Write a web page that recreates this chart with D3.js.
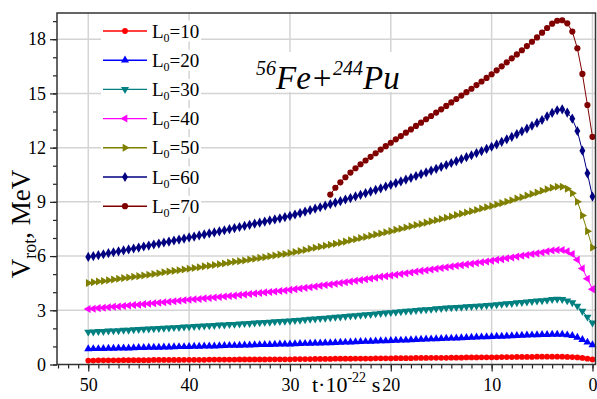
<!DOCTYPE html>
<html>
<head>
<meta charset="utf-8">
<title>Vrot vs t</title>
<style>
  body { margin: 0; background: #fff; }
  svg text { font-family: "Liberation Serif", "Times New Roman", serif; fill: #000; }
</style>
<script src="https://cdn.jsdelivr.net/npm/d3@7"></script>
</head>
<body>
<div id="chart"></div>
<script>
// time runs from 50 down to 0 (units of 10^-22 s), one point every 0.5
const tStart = 50, tStep = 0.5;

const L10 = [0.22, 0.22, 0.23, 0.23, 0.23, 0.23, 0.23, 0.24, 0.24, 0.24, 0.24,
  0.24, 0.24, 0.25, 0.25, 0.25, 0.25, 0.25, 0.25, 0.26, 0.26,
  0.26, 0.26, 0.26, 0.27, 0.27, 0.27, 0.27, 0.27, 0.27, 0.28,
  0.28, 0.28, 0.28, 0.28, 0.28, 0.29, 0.29, 0.29, 0.29, 0.29,
  0.30, 0.30, 0.30, 0.30, 0.31, 0.31, 0.31, 0.31, 0.32, 0.32,
  0.32, 0.32, 0.33, 0.33, 0.33, 0.33, 0.34, 0.34, 0.34, 0.34,
  0.35, 0.35, 0.35, 0.35, 0.36, 0.36, 0.36, 0.37, 0.37, 0.37,
  0.37, 0.38, 0.38, 0.38, 0.39, 0.39, 0.39, 0.40, 0.40, 0.40,
  0.40, 0.41, 0.41, 0.41, 0.42, 0.42, 0.42, 0.42, 0.43, 0.43,
  0.43, 0.43, 0.43, 0.43, 0.42, 0.41, 0.39, 0.36, 0.32, 0.28];

const L20 = [0.86, 0.87, 0.87, 0.88, 0.89, 0.89, 0.90, 0.91, 0.91, 0.92, 0.93,
  0.93, 0.94, 0.95, 0.95, 0.96, 0.96, 0.97, 0.98, 0.98, 0.99,
  1.00, 1.00, 1.01, 1.02, 1.02, 1.03, 1.04, 1.05, 1.05, 1.06,
  1.07, 1.07, 1.08, 1.09, 1.10, 1.10, 1.11, 1.12, 1.12, 1.13,
  1.14, 1.15, 1.16, 1.17, 1.18, 1.18, 1.19, 1.20, 1.21, 1.22,
  1.23, 1.24, 1.25, 1.26, 1.27, 1.28, 1.29, 1.30, 1.31, 1.32,
  1.33, 1.34, 1.35, 1.36, 1.38, 1.39, 1.40, 1.41, 1.42, 1.43,
  1.44, 1.45, 1.46, 1.47, 1.49, 1.50, 1.51, 1.52, 1.53, 1.54,
  1.55, 1.56, 1.57, 1.58, 1.60, 1.61, 1.62, 1.63, 1.64, 1.65,
  1.65, 1.66, 1.66, 1.66, 1.63, 1.59, 1.50, 1.37, 1.23, 1.08];

const L30 = [1.80, 1.81, 1.83, 1.84, 1.86, 1.87, 1.88, 1.90, 1.91, 1.93, 1.94,
  1.96, 1.97, 1.99, 2.00, 2.02, 2.03, 2.05, 2.06, 2.08, 2.09,
  2.11, 2.12, 2.14, 2.15, 2.17, 2.19, 2.20, 2.22, 2.23, 2.25,
  2.27, 2.28, 2.30, 2.32, 2.34, 2.35, 2.37, 2.39, 2.40, 2.42,
  2.44, 2.46, 2.49, 2.51, 2.53, 2.55, 2.57, 2.60, 2.62, 2.64,
  2.66, 2.69, 2.71, 2.74, 2.76, 2.78, 2.81, 2.83, 2.86, 2.88,
  2.90, 2.93, 2.95, 2.97, 3.00, 3.02, 3.04, 3.06, 3.09, 3.11,
  3.13, 3.15, 3.16, 3.18, 3.20, 3.22, 3.24, 3.25, 3.27, 3.29,
  3.32, 3.34, 3.37, 3.39, 3.42, 3.44, 3.47, 3.49, 3.52, 3.54,
  3.57, 3.60, 3.62, 3.61, 3.53, 3.43, 3.24, 2.96, 2.63, 2.31];

const L40 = [3.07, 3.09, 3.12, 3.14, 3.17, 3.19, 3.21, 3.24, 3.26, 3.29, 3.31,
  3.34, 3.36, 3.39, 3.42, 3.45, 3.47, 3.50, 3.53, 3.55, 3.58,
  3.61, 3.63, 3.66, 3.68, 3.71, 3.74, 3.76, 3.79, 3.81, 3.84,
  3.87, 3.90, 3.93, 3.96, 3.99, 4.01, 4.04, 4.07, 4.10, 4.13,
  4.17, 4.21, 4.24, 4.28, 4.32, 4.36, 4.40, 4.43, 4.47, 4.51,
  4.55, 4.59, 4.64, 4.68, 4.72, 4.76, 4.80, 4.85, 4.89, 4.93,
  4.97, 5.01, 5.05, 5.09, 5.14, 5.18, 5.22, 5.26, 5.30, 5.34,
  5.38, 5.42, 5.46, 5.50, 5.54, 5.58, 5.62, 5.66, 5.70, 5.74,
  5.79, 5.83, 5.88, 5.92, 5.97, 6.02, 6.06, 6.11, 6.15, 6.20,
  6.26, 6.31, 6.34, 6.34, 6.26, 6.11, 5.80, 5.31, 4.75, 4.17];

const L50 = [4.51, 4.55, 4.59, 4.62, 4.66, 4.70, 4.74, 4.78, 4.81, 4.85, 4.89,
  4.93, 4.97, 5.01, 5.05, 5.10, 5.14, 5.18, 5.22, 5.26, 5.30,
  5.34, 5.38, 5.43, 5.47, 5.51, 5.55, 5.59, 5.64, 5.68, 5.72,
  5.76, 5.81, 5.85, 5.90, 5.94, 5.99, 6.03, 6.08, 6.12, 6.17,
  6.23, 6.28, 6.34, 6.40, 6.46, 6.51, 6.57, 6.63, 6.68, 6.74,
  6.80, 6.87, 6.93, 7.00, 7.06, 7.12, 7.19, 7.25, 7.32, 7.38,
  7.45, 7.51, 7.58, 7.65, 7.72, 7.78, 7.85, 7.92, 7.98, 8.05,
  8.12, 8.19, 8.27, 8.34, 8.41, 8.48, 8.55, 8.63, 8.70, 8.77,
  8.85, 8.93, 9.01, 9.09, 9.18, 9.26, 9.35, 9.43, 9.52, 9.61,
  9.70, 9.78, 9.83, 9.84, 9.72, 9.48, 9.01, 8.25, 7.37, 6.47];

const L60 = [5.95, 6.00, 6.05, 6.10, 6.16, 6.21, 6.26, 6.31, 6.37, 6.42, 6.47,
  6.53, 6.58, 6.64, 6.69, 6.75, 6.80, 6.86, 6.91, 6.97, 7.03,
  7.08, 7.14, 7.20, 7.26, 7.31, 7.37, 7.43, 7.49, 7.55, 7.61,
  7.67, 7.73, 7.79, 7.85, 7.91, 7.97, 8.03, 8.09, 8.16, 8.22,
  8.30, 8.38, 8.46, 8.54, 8.62, 8.70, 8.79, 8.87, 8.96, 9.04,
  9.13, 9.21, 9.30, 9.39, 9.48, 9.57, 9.66, 9.75, 9.85, 9.94,
  10.04, 10.13, 10.23, 10.33, 10.43, 10.53, 10.63, 10.73, 10.83, 10.94,
  11.04, 11.15, 11.25, 11.36, 11.47, 11.58, 11.70, 11.81, 11.93, 12.05,
  12.18, 12.32, 12.46, 12.60, 12.75, 12.90, 13.05, 13.21, 13.37, 13.53,
  13.73, 13.92, 14.07, 14.12, 13.94, 13.60, 12.92, 11.83, 10.58, 9.29];

// L0=70 only starts at t = 26
const L70start = 26;
const L70 = [9.40, 9.78, 10.08, 10.36, 10.62, 10.86, 11.08, 11.29, 11.49, 11.69,
  11.89, 12.08, 12.27, 12.46, 12.64, 12.83, 13.01, 13.20, 13.38, 13.57,
  13.75, 13.94, 14.12, 14.31, 14.50, 14.69, 14.88, 15.07, 15.26, 15.46,
  15.66, 15.86, 16.06, 16.28, 16.50, 16.72, 16.94, 17.16, 17.39, 17.62,
  17.86, 18.10, 18.36, 18.62, 18.86, 19.02, 19.05, 18.88, 18.42, 17.50,
  16.08, 14.36, 12.60];

const legendLabels = ['10', '20', '30', '40', '50', '60', '70'];
const xTicks = [50, 40, 30, 20, 10, 0];
const yTicks = [0, 3, 6, 9, 12, 15, 18];

const W = 597, H = 399;
const mLeft = 57, mRight = 595.5, mTop = 13, mBottom = 364.5;

let svg = d3.select('#chart').append('svg').attr('width', W).attr('height', H);

let x = d3.scaleLinear().domain([53.1, -0.3]).range([mLeft, mRight]);
let y = d3.scaleLinear().domain([0, 19.45]).range([mBottom, mTop]);

function sym(type, rot) {
  return { type: type, rot: rot };
}
let series = [
  { name: legendLabels[0], values: L10, start: tStart, color: '#ff0000', s: sym(d3.symbolCircle, 0), size: 26 },
  { name: legendLabels[1], values: L20, start: tStart, color: '#0000ff', s: sym(d3.symbolTriangle, 0), size: 28 },
  { name: legendLabels[2], values: L30, start: tStart, color: '#008080', s: sym(d3.symbolTriangle, 180), size: 28 },
  { name: legendLabels[3], values: L40, start: tStart, color: '#ff00ff', s: sym(d3.symbolTriangle, -90), size: 28 },
  { name: legendLabels[4], values: L50, start: tStart, color: '#808000', s: sym(d3.symbolTriangle, 90), size: 28 },
  { name: legendLabels[5], values: L60, start: tStart, color: '#000080', s: sym(d3.symbolDiamond, 0), size: 30 },
  { name: legendLabels[6], values: L70, start: L70start, color: '#800000', s: sym(d3.symbolCircle, 0), size: 30 }
];

// grid
let grid = svg.append('g');
grid.selectAll('.gx').data(xTicks).enter().append('line')
  .attr('x1', d => x(d)).attr('x2', d => x(d))
  .attr('y1', mTop).attr('y2', mBottom)
  .style('stroke', '#d4d4d4').style('stroke-width', 1.5);
grid.selectAll('.gy').data(yTicks.slice(1)).enter().append('line')
  .attr('x1', mLeft).attr('x2', mRight)
  .attr('y1', d => y(d)).attr('y2', d => y(d))
  .style('stroke', '#d4d4d4').style('stroke-width', 1.5);

// axes
let minorX = d3.range(0, 54, 1), minorY = d3.range(0, 20, 1);
let xMinor = svg.append('g').attr('transform', 'translate(0,' + mBottom + ')')
  .call(d3.axisBottom(x).tickValues(minorX).tickSize(4).tickFormat(''));
let xMajor = svg.append('g').attr('transform', 'translate(0,' + mBottom + ')')
  .call(d3.axisBottom(x).tickValues(xTicks).tickSize(7).tickPadding(4));
let yMinor = svg.append('g').attr('transform', 'translate(' + mLeft + ',0)')
  .call(d3.axisLeft(y).tickValues(minorY).tickSize(4).tickFormat(''));
let yMajor = svg.append('g').attr('transform', 'translate(' + mLeft + ',0)')
  .call(d3.axisLeft(y).tickValues(yTicks).tickSize(7).tickPadding(4));
[xMinor, xMajor, yMinor, yMajor].forEach(a => {
  a.select('.domain').remove();
  a.selectAll('line').style('stroke', '#222').style('stroke-width', 1.2);
});
xMajor.selectAll('text').attr('y', 26).attr('dy', 0).style('font-size', '18px');
yMajor.selectAll('text').style('font-size', '18px');

// curves
let line = d3.line().x(d => x(d[0])).y(d => y(d[1]));
let plot = svg.append('g');
series.forEach(s => {
  let pts = s.values.map((v, i) => [s.start - i * tStep, v]);
  plot.append('path').datum(pts).attr('d', line)
    .style('fill', 'none').style('stroke', s.color).style('stroke-width', 1);
  let shape = d3.symbol().type(s.s.type).size(s.size)();
  plot.selectAll(null).data(pts).enter().append('path')
    .attr('d', shape)
    .attr('transform', d => 'translate(' + x(d[0]) + ',' + y(d[1]) + ') rotate(' + s.s.rot + ')')
    .style('fill', s.color);
});

// frame
svg.append('rect').attr('x', mLeft).attr('y', mTop)
  .attr('width', mRight - mLeft).attr('height', mBottom - mTop)
  .style('fill', 'none').style('stroke', '#333').style('stroke-width', 1.5);

// legend
let legend = svg.append('g');
series.forEach((s, i) => {
  let ry = 31 + i * 29.2;
  let g = legend.append('g');
  g.append('rect').attr('x', 101).attr('y', ry - 10.5).attr('width', 100).attr('height', 21).style('fill', '#fff');
  g.append('line').attr('x1', 103).attr('x2', 147).attr('y1', ry).attr('y2', ry)
    .style('stroke', s.color).style('stroke-width', 1.4);
  g.append('path').attr('d', d3.symbol().type(s.s.type).size(s.size)())
    .attr('transform', 'translate(125,' + ry + ') rotate(' + s.s.rot + ')')
    .style('fill', s.color);
  let t = g.append('text').attr('x', 152).attr('y', ry + 6.5).style('font-size', '19px');
  t.append('tspan').text('L');
  t.append('tspan').attr('dy', 4).style('font-size', '12px').text('0');
  t.append('tspan').attr('dy', -4).text('=' + s.name);
});

// title
svg.append('rect').attr('x', 252).attr('y', 52).attr('width', 156).attr('height', 40).style('fill', '#fff');
let title = svg.append('text').attr('x', 256).attr('y', 89)
  .style('font-size', '33px').style('font-style', 'italic');
title.append('tspan').attr('dy', -14).style('font-size', '20px').text('56');
title.append('tspan').attr('dy', 14).text('Fe+');
title.append('tspan').attr('dy', -14).style('font-size', '20px').text('244');
title.append('tspan').attr('dy', 14).text('Pu');

// axis titles
let xl = svg.append('text').attr('x', 312).attr('y', 392).style('font-size', '22px');
xl.append('tspan').text('t\u00b710');
xl.append('tspan').attr('dy', -10).style('font-size', '14px').text('-22');
xl.append('tspan').attr('dy', 10).text(' s');

let yl = svg.append('text').attr('transform', 'translate(30,224) rotate(-90)')
  .style('text-anchor', 'middle').style('font-size', '27px');
yl.append('tspan').text('V');
yl.append('tspan').attr('dy', 6).style('font-size', '18px').text('rot');
yl.append('tspan').attr('dy', -6).text(', MeV');
</script>
</body>
</html>
